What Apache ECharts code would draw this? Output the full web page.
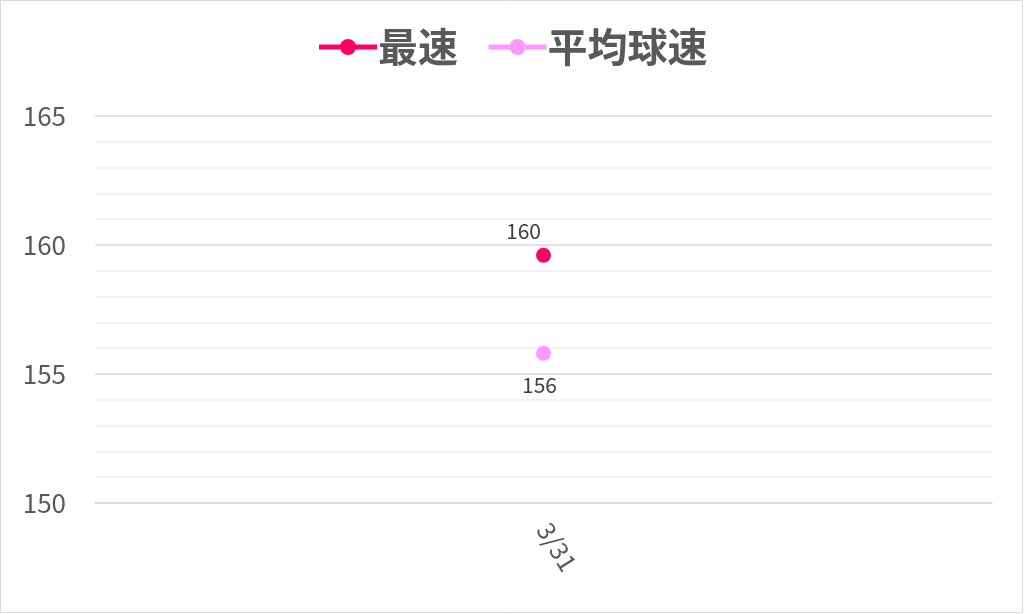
<!DOCTYPE html>
<html><head><meta charset="utf-8">
<script src="https://cdn.jsdelivr.net/npm/echarts@6/dist/echarts.min.js"></script>
<style>html,body{margin:0;padding:0;background:#fff}#c{width:1024px;height:614px}</style>
</head><body><div id="c"></div>
<script>
const categories = ['3/31'];
const seriesNames = ['最速', '平均球速'];
const topSpeed = [159.6];
const avgSpeed = [155.8];
const yTicks = [150, 155, 160, 165];

const chart = echarts.init(document.getElementById('c'));
const font = '"Noto Sans CJK JP", "Noto Sans", sans-serif';
chart.setOption({
  animation: false,
  textStyle: { fontFamily: font },
  graphic: [{ type: 'rect', shape: { x: 0.5, y: 0.5, width: 1022, height: 612 }, style: { fill: 'none', stroke: '#d9d9d9', lineWidth: 1 } }],
  legend: {
    top: 22, left: 'center', itemWidth: 58, itemHeight: 20, itemGap: 28,
    lineStyle: { width: 5 },
    textStyle: { fontSize: 40, fontWeight: 'bold', color: '#595959', fontFamily: font, padding: [0, 0, 0, -4] },
    data: seriesNames
  },
  grid: { left: 95, right: 32, top: 116, bottom: 111, containLabel: false },
  xAxis: {
    type: 'category', data: categories, boundaryGap: true,
    axisLine: { lineStyle: { color: '#d9d9d9', width: 1.5 } },
    axisTick: { show: false },
    axisLabel: { rotate: -58, margin: 22, fontSize: 25, color: '#595959', fontFamily: font }
  },
  yAxis: {
    type: 'value', min: yTicks[0], max: yTicks[yTicks.length - 1], interval: 5,
    axisLine: { show: false }, axisTick: { show: false },
    axisLabel: { margin: 29, fontSize: 26, color: '#595959', fontFamily: font },
    splitLine: { lineStyle: { color: '#d9d9d9', width: 1.5 } },
    minorTick: { show: false, splitNumber: 5 },
    minorSplitLine: { show: true, lineStyle: { color: '#f0f0f0', width: 1.5 } }
  },
  series: [
    {
      name: seriesNames[0], type: 'line', data: topSpeed, symbol: 'circle', symbolSize: 15,
      itemStyle: { color: '#ff0066' }, lineStyle: { width: 5, color: '#ff0066' },
      label: { show: true, position: 'top', distance: 6, offset: [-20, 0], fontSize: 21, color: '#404040', fontFamily: font,
        formatter: p => Math.round(p.value) }
    },
    {
      name: seriesNames[1], type: 'line', data: avgSpeed, symbol: 'circle', symbolSize: 15,
      itemStyle: { color: '#ff99ff' }, lineStyle: { width: 5, color: '#ff99ff' },
      label: { show: true, position: 'bottom', distance: 14, offset: [-4, 0], fontSize: 21, color: '#404040', fontFamily: font,
        formatter: p => Math.round(p.value) }
    }
  ]
});
</script></body></html>
